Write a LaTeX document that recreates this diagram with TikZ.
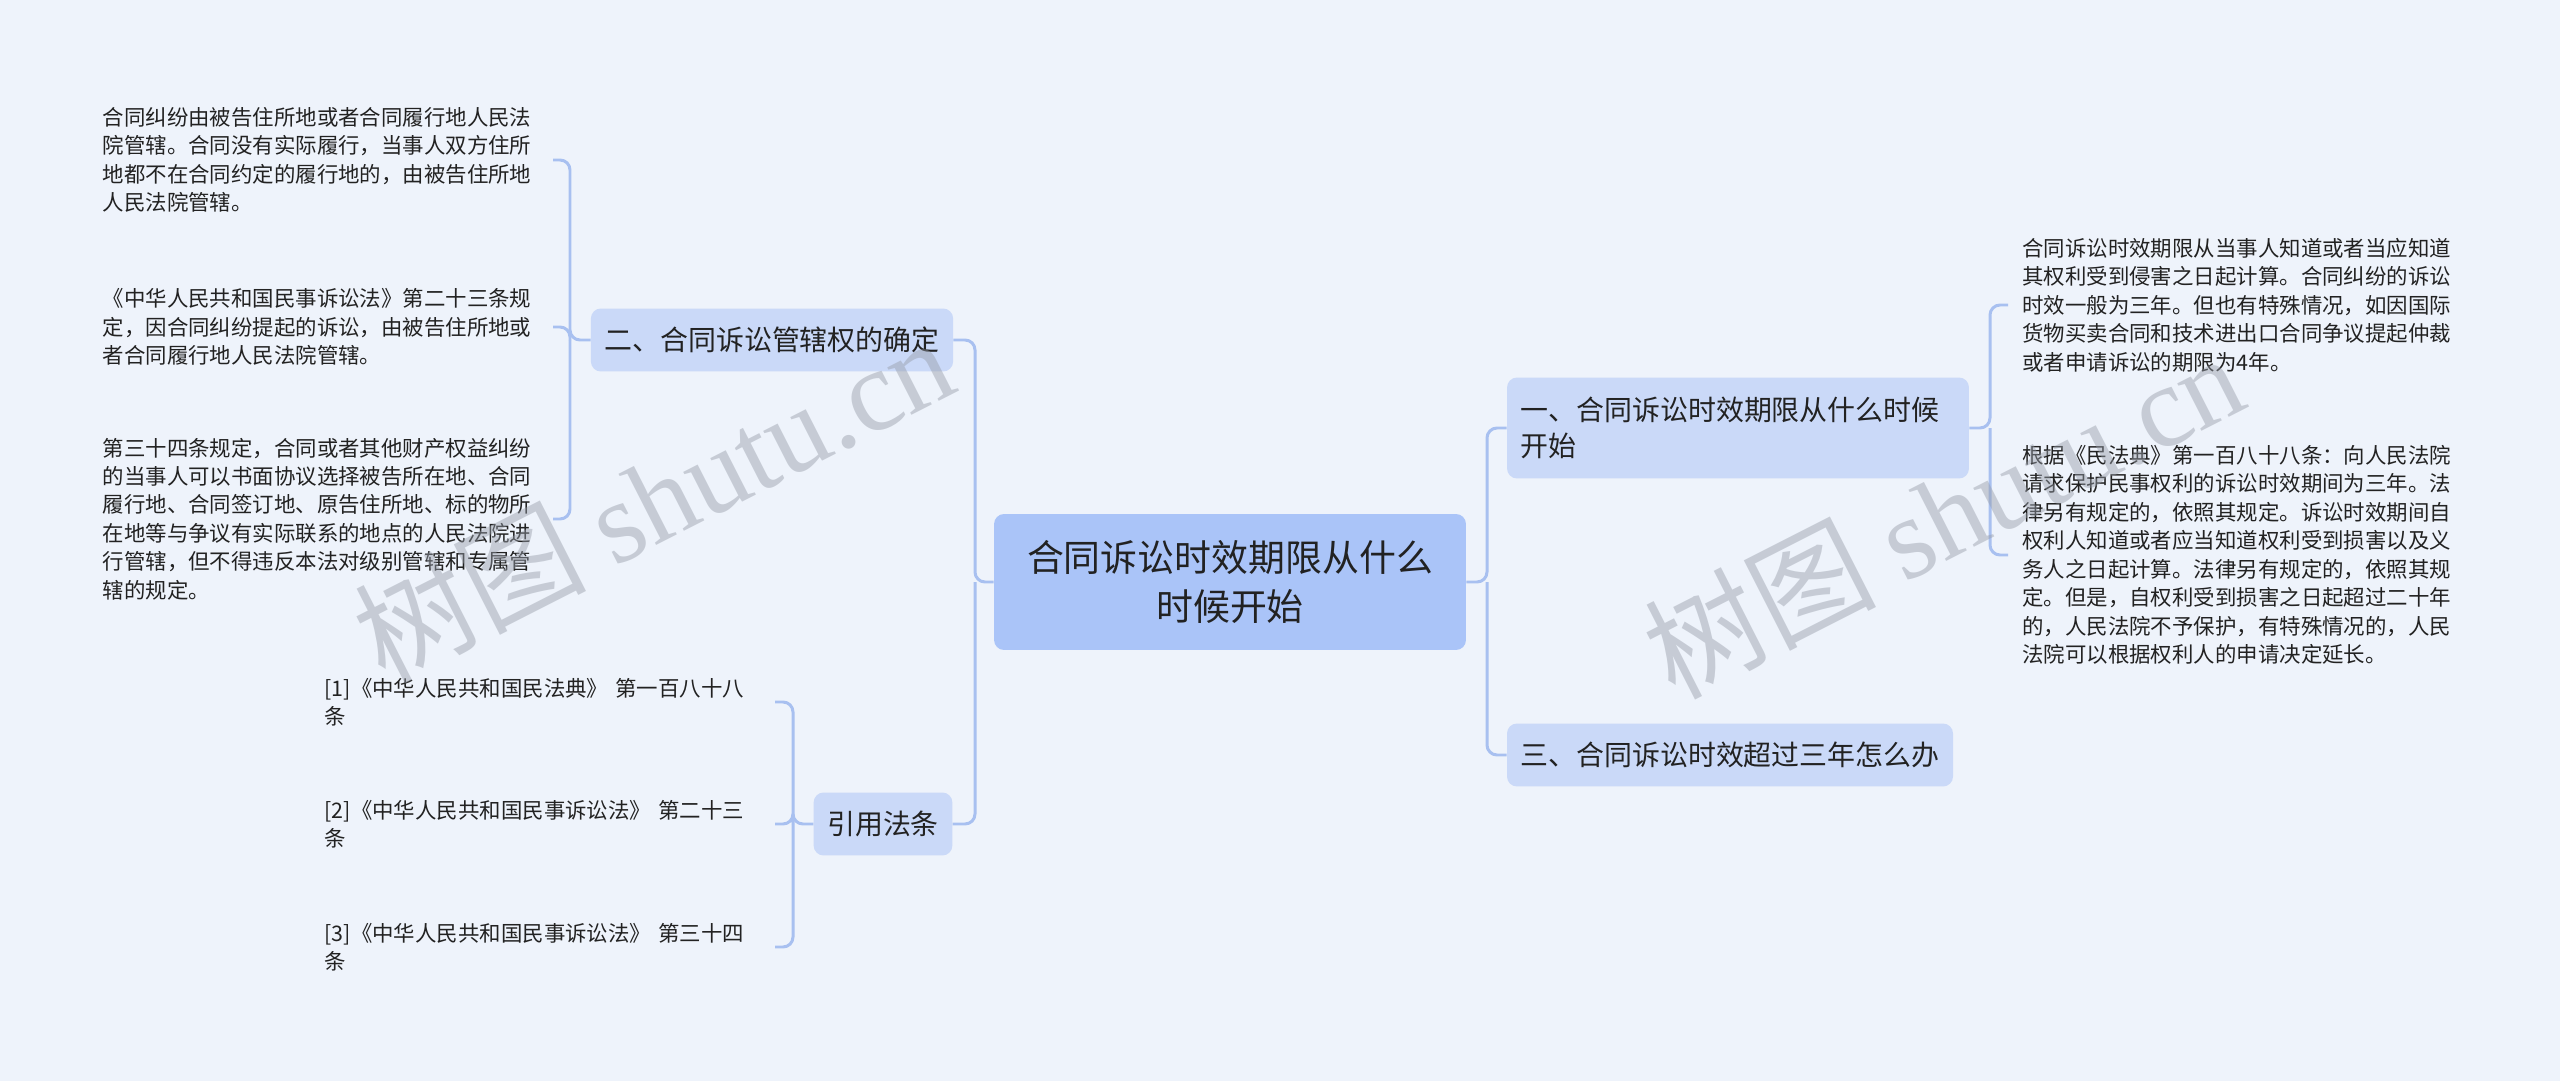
\documentclass[tikz,border=0pt]{standalone}
\usepackage{fontspec}
\setmainfont{Noto Sans CJK SC}
\newfontfamily\wmlatin{Liberation Serif}
\usepackage{tikz}
\usetikzlibrary{positioning}
\definecolor{PageBg}{RGB}{238,243,251}
\definecolor{RootFill}{RGB}{170,196,248}
\definecolor{TopicFill}{RGB}{202,217,248}
\definecolor{LinkLine}{RGB}{168,192,240}
\definecolor{InkText}{RGB}{34,34,34}
\definecolor{MarkGray}{RGB}{150,156,168}

\begin{document}
\begin{tikzpicture}[
  x=0.02cm, y=-0.02cm,
  root/.style={
    rectangle,
    rounded corners=0.2cm,
    fill=RootFill,
    text=InkText,
    align=center,
    minimum width=9.44cm,
    minimum height=2.72cm,
    font=\fontsize{21pt}{27.8pt}\selectfont
  },
  topic/.style={
    rectangle,
    rounded corners=0.2cm,
    fill=TopicFill,
    text=InkText,
    inner xsep=0.27cm,
    minimum height=1.26cm,
    font=\fontsize{15.9pt}{20.8pt}\selectfont
  },
  leaf/.style={
    text=InkText,
    align=left,
    text width=8.72cm,
    inner xsep=0.28cm,
    inner ysep=0pt,
    font=\fontsize{12.2pt}{16.2pt}\selectfont
  },
  conn/.style={draw=LinkLine, line width=1.7pt, rounded corners=0.2cm},
  wmark/.style={text=MarkGray, opacity=0.45, font=\fontsize{66pt}{66pt}\selectfont}
]
\fill[PageBg] (0,0) rectangle (2560,1081);
\useasboundingbox (0,0) rectangle (2560,1081);

\node[root] (main) at (1230,582) {合同诉讼时效期限从什么\\时候开始};

\node[topic] (court) at (772,340) {二、合同诉讼管辖权的确定};
\node[topic] (cite) at (883,824) {引用法条};
\node[topic, text width=8.7cm, align=left, minimum height=2.02cm] (start) at (1738,428) {一、合同诉讼时效期限从什么时候\\开始};
\node[topic] (over) at (1730,755) {三、合同诉讼时效超过三年怎么办};

\node[leaf, anchor=east] (court1) at (553,160) {合同纠纷由被告住所地或者合同履行地人民法\\院管辖。合同没有实际履行，当事人双方住所\\地都不在合同约定的履行地的，由被告住所地\\人民法院管辖。};
\node[leaf, anchor=east] (court2) at (553,327) {《中华人民共和国民事诉讼法》第二十三条规\\定，因合同纠纷提起的诉讼，由被告住所地或\\者合同履行地人民法院管辖。};
\node[leaf, anchor=east] (court3) at (553,519) {第三十四条规定，合同或者其他财产权益纠纷\\的当事人可以书面协议选择被告所在地、合同\\履行地、合同签订地、原告住所地、标的物所\\在地等与争议有实际联系的地点的人民法院进\\行管辖，但不得违反本法对级别管辖和专属管\\辖的规定。};

\node[leaf, anchor=east] (cite1) at (775,702) {[1]《中华人民共和国民法典》 第一百八十八\\条};
\node[leaf, anchor=east] (cite2) at (775,824) {[2]《中华人民共和国民事诉讼法》 第二十三\\条};
\node[leaf, anchor=east] (cite3) at (775,947) {[3]《中华人民共和国民事诉讼法》 第三十四\\条};

\node[leaf, anchor=west] (start1) at (2008,305) {合同诉讼时效期限从当事人知道或者当应知道\\其权利受到侵害之日起计算。合同纠纷的诉讼\\时效一般为三年。但也有特殊情况，如因国际\\货物买卖合同和技术进出口合同争议提起仲裁\\或者申请诉讼的期限为4年。};
\node[leaf, anchor=west] (start2) at (2008,555) {根据《民法典》第一百八十八条：向人民法院\\请求保护民事权利的诉讼时效期间为三年。法\\律另有规定的，依照其规定。诉讼时效期间自\\权利人知道或者应当知道权利受到损害以及义\\务人之日起计算。法律另有规定的，依照其规\\定。但是，自权利受到损害之日起超过二十年\\的，人民法院不予保护，有特殊情况的，人民\\法院可以根据权利人的申请决定延长。};

\coordinate (lhub) at (975,582);
\coordinate (rhub) at (1487,582);
\coordinate (courthub) at (570,340);
\coordinate (citehub) at (793,824);
\coordinate (starthub) at (1990,428);

\draw[conn] (main.west) -- (lhub) |- (court.east);
\draw[conn] (lhub) |- (cite.east);
\draw[conn] (main.east) -- (rhub) |- (start.west);
\draw[conn] (rhub) |- (over.west);

\draw[conn] (court.west) -- (courthub) |- (court1.east);
\draw[conn] (courthub) |- (court2.east);
\draw[conn] (courthub) |- (court3.east);

\draw[conn] (cite.west) -- (citehub) |- (cite1.east);
\draw[conn] (citehub) |- (cite2.east);
\draw[conn] (citehub) |- (cite3.east);

\draw[conn] (start.east) -- (starthub) |- (start1.west);
\draw[conn] (starthub) |- (start2.west);

\node[wmark, rotate=27] (mark1) at (653,498) {树图 {\wmlatin shutu.cn}};
\node[wmark, rotate=27] (mark2) at (1943,514) {树图 {\wmlatin shutu.cn}};
\end{tikzpicture}
\end{document}
